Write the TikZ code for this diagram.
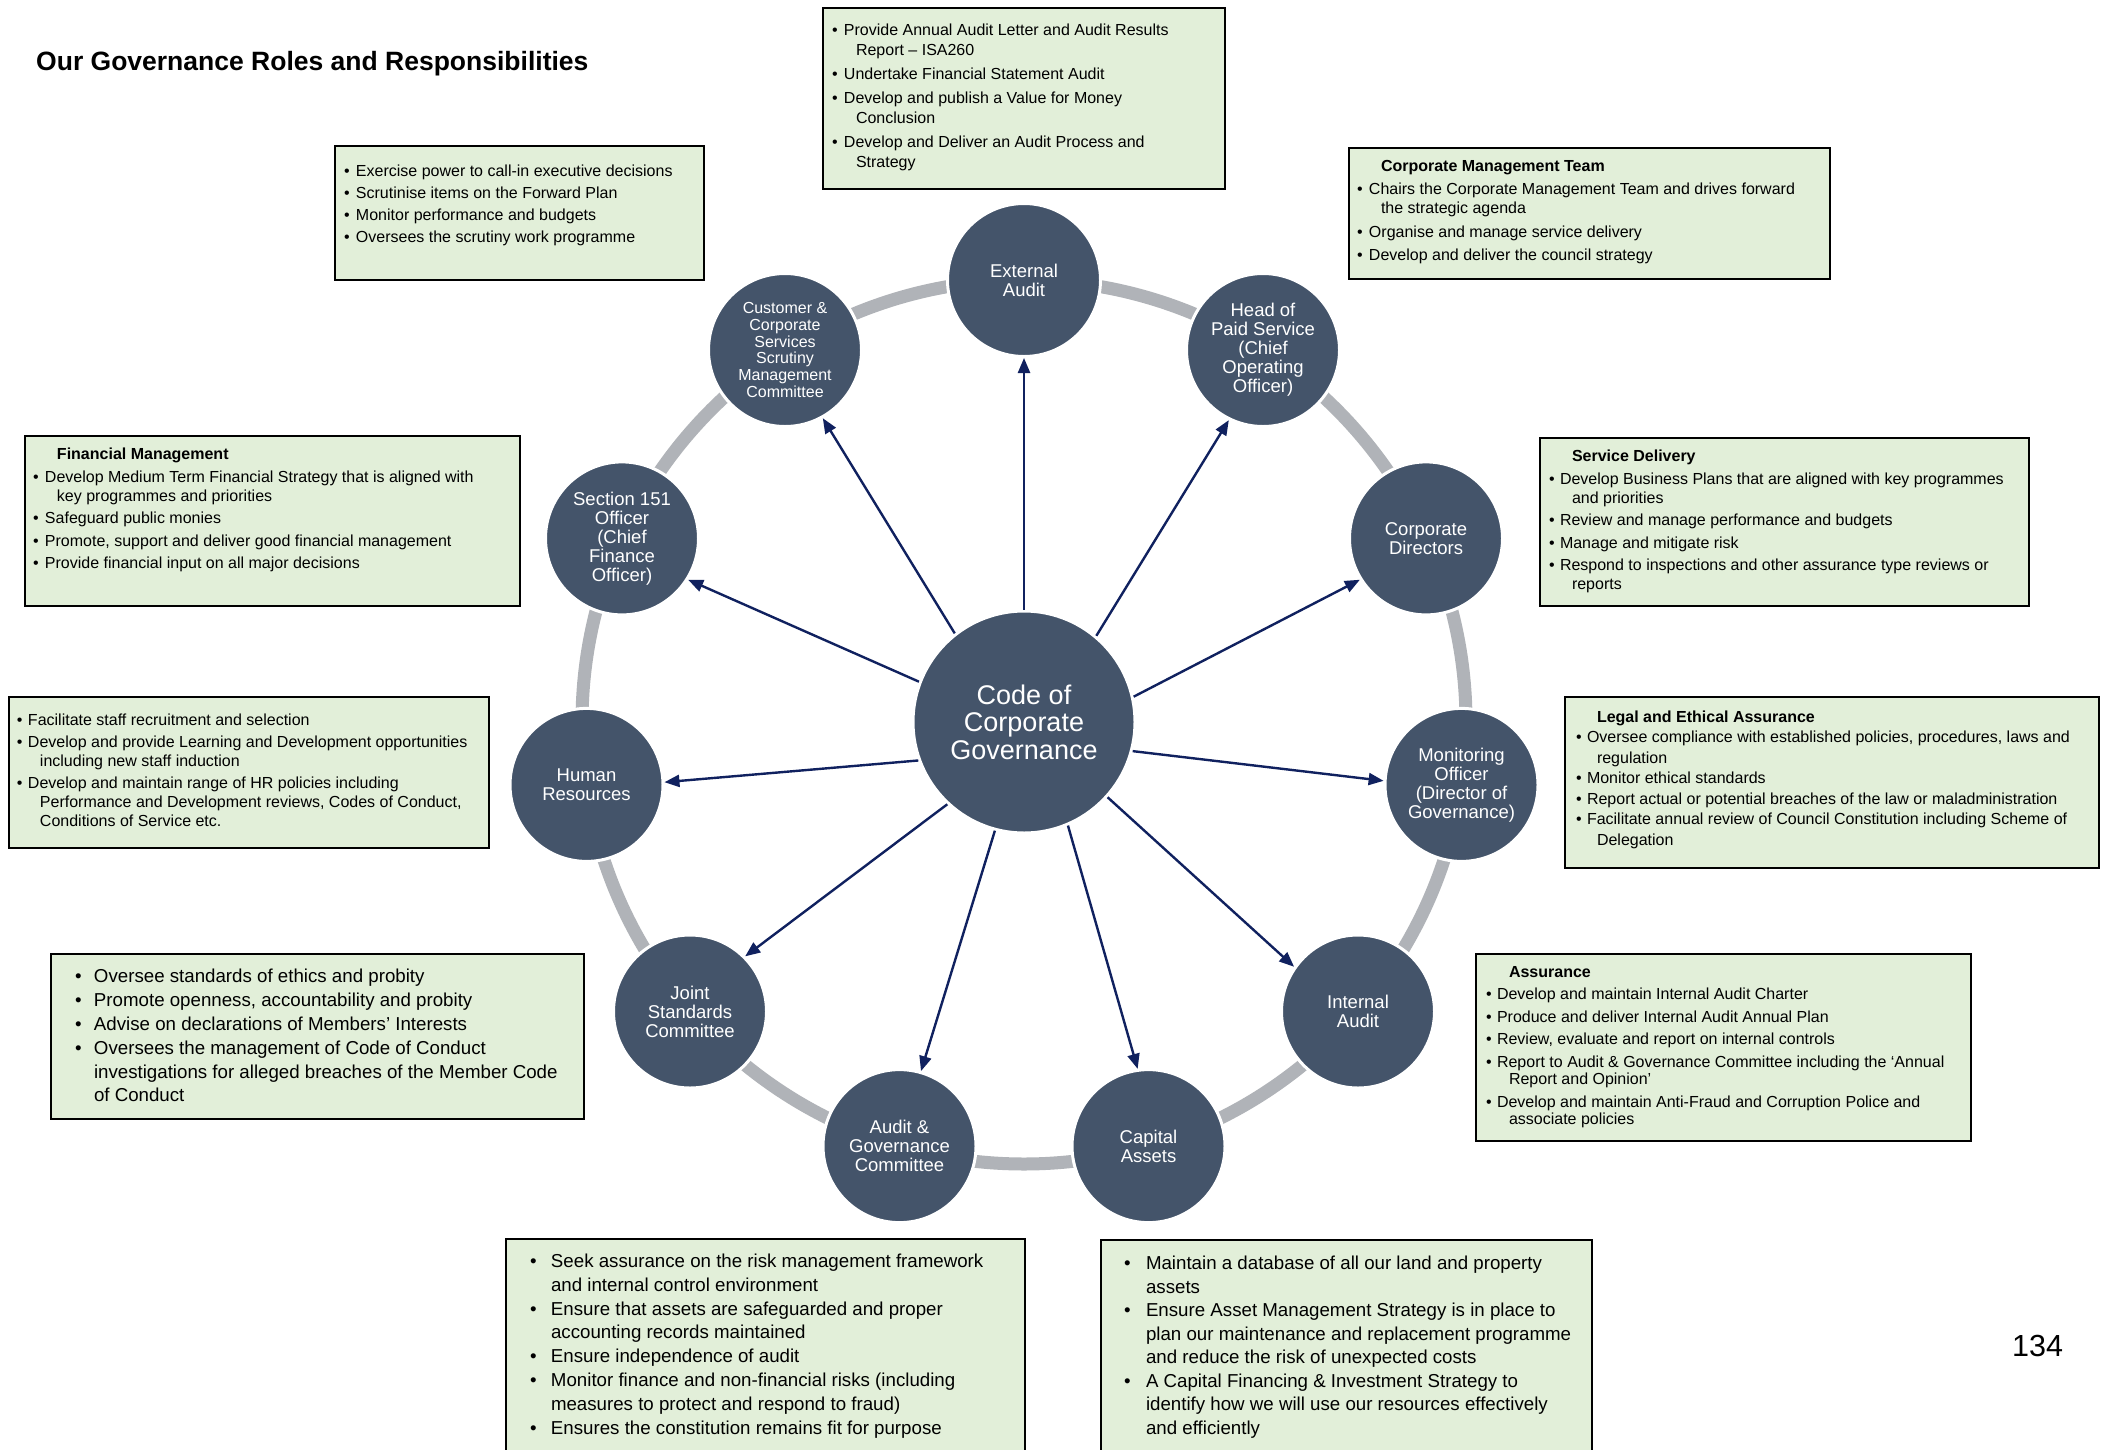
\documentclass[tikz,border=0pt]{standalone}
\usepackage{fontspec}
\setmainfont{Liberation Sans}
\usetikzlibrary{arrows.meta}
\definecolor{circfill}{HTML}{44546A}
\definecolor{ringgray}{HTML}{B0B3B8}
\definecolor{arrowblue}{HTML}{10215F}
\definecolor{boxgreen}{HTML}{E2EFD9}
\newlength{\hgi}\newlength{\bwi}
\newcommand{\bi}[1]{\par\hangindent=\hgi\hangafter=1\noindent\strut\makebox[\bwi][l]{•}#1\par}
\newcommand{\bt}[1]{\par\noindent\strut\hspace*{\hgi}\textbf{#1}\par}
\newcommand{\gbody}[6]{\hspace*{#1}\begin{minipage}[t][#3][t]{#2}\setlength{\parskip}{#5}\setlength{\parindent}{0pt}\raggedright\vspace*{#4}#6\end{minipage}}
\tikzset{
  role/.style={circle, fill=circfill, draw=white, line width=3pt, minimum size=153pt,
    inner sep=0pt, text=white, align=center, font=\fontsize{18.5}{19}\selectfont},
  gbox/.style={rectangle, draw=black, line width=2pt, fill=boxgreen, inner sep=0pt,
    anchor=north west, text=black},
  arr/.style={draw=arrowblue, line width=2.4pt, -{Triangle[length=15pt,width=12pt]}},
  ring/.style={draw=ringgray, line width=13pt}
}
\begin{document}
\begin{tikzpicture}[x=1pt,y=-1pt]
\useasboundingbox (0,0) rectangle (2107,1449);
\fill[white] (0,0) rectangle (2107,1449);
\coordinate (O) at (1024,722);
\draw[ring] (O) circle[radius=442];

\node[role, minimum size=222pt, font=\fontsize{27}{27.5}\selectfont] (C) at (O) {Code of\\Corporate\\Governance};
\node[role] (n0) at (1024,280) {External\\Audit};
\node[role] (n1) at (1263,350) {Head of\\Paid Service\\(Chief\\Operating\\Officer)};
\node[role] (n2) at (1426,538.4) {Corporate\\Directors};
\node[role] (n3) at (1461.5,784.9) {Monitoring\\Officer\\(Director of\\Governance)};
\node[role] (n4) at (1358,1011.5) {Internal\\Audit};
\node[role] (n5) at (1148.5,1146.1) {Capital\\Assets};
\node[role] (n6) at (899.5,1146.1) {Audit \&\\Governance\\Committee};
\node[role] (n7) at (690,1011.5) {Joint\\Standards\\Committee};
\node[role] (n8) at (586.5,784.9) {Human\\Resources};
\node[role] (n9) at (622,538.4) {Section 151\\Officer\\(Chief\\Finance\\Officer)};
\node[role, font=\fontsize{16}{16.7}\selectfont] (n10) at (785,350) {Customer \&\\Corporate\\Services\\Scrutiny\\Management\\Committee};

\draw[arr] (C.90) -- (n0.-90);
\draw[arr] (C.50) -- (n1.244);
\draw[arr] (C.13) -- (n2.212);
\draw[arr] (C.-15) -- (n3.177);
\draw[arr] (C.-42) -- (n4.145);
\draw[arr] (C.-67) -- (n5.98);
\draw[arr] (C.-105) -- (n6.74);
\draw[arr] (C.-133) -- (n7.45);
\draw[arr] (C.-160) -- (n8.2);
\draw[arr] (C.159) -- (n9.-32);
\draw[arr] (C.128) -- (n10.-61);

\node[anchor=base west, inner sep=0pt, font=\fontsize{26.5}{30}\selectfont\bfseries] (title) at (36,70) {Our Governance Roles and Responsibilities};
\node[anchor=base west, inner sep=0pt, font=\fontsize{30.5}{33}\selectfont] (pg) at (2012,1356) {134};

% External Audit box
\node[gbox, font=\fontsize{16}{20}\selectfont] (bA) at (822,7) {\gbody{9pt}{393pt}{181pt}{13pt}{4pt}{\setlength{\hgi}{24pt}\setlength{\bwi}{12pt}%
\bi{Provide Annual Audit Letter and Audit Results\newline Report – ISA260}%
\bi{Undertake Financial Statement Audit}%
\bi{Develop and publish a Value for Money\newline Conclusion}%
\bi{Develop and Deliver an Audit Process and\newline Strategy}}};

% Scrutiny box
\node[gbox, font=\fontsize{16}{19}\selectfont] (bB) at (334,145) {\gbody{9pt}{360pt}{134pt}{17pt}{3pt}{\setlength{\hgi}{24pt}\setlength{\bwi}{12pt}%
\bi{Exercise power to call-in executive decisions}%
\bi{Scrutinise items on the Forward Plan}%
\bi{Monitor performance and budgets}%
\bi{Oversees the scrutiny work programme}}};

% Corporate Management Team box
\node[gbox, font=\fontsize{16}{19}\selectfont] (bC) at (1348,147) {\gbody{8pt}{473pt}{131pt}{9.7pt}{4.5pt}{\setlength{\hgi}{24pt}\setlength{\bwi}{12pt}%
\bt{Corporate Management Team}%
\bi{Chairs the Corporate Management Team and drives forward\newline the strategic agenda}%
\bi{Organise and manage service delivery}%
\bi{Develop and deliver the council strategy}}};

% Financial Management box
\node[gbox, font=\fontsize{16}{19}\selectfont] (bD) at (24,435) {\gbody{8pt}{487pt}{170pt}{10.5pt}{3.5pt}{\setlength{\hgi}{24pt}\setlength{\bwi}{12pt}%
\bt{Financial Management}%
\bi{Develop Medium Term Financial Strategy that is aligned with\newline key programmes and priorities}%
\bi{Safeguard public monies}%
\bi{Promote, support and deliver good financial management}%
\bi{Provide financial input on all major decisions}}};

% Service Delivery box
\node[gbox, font=\fontsize{16}{19}\selectfont] (bE) at (1539,437) {\gbody{9pt}{480pt}{168pt}{10.5pt}{3.5pt}{\setlength{\hgi}{23pt}\setlength{\bwi}{11pt}%
\bt{Service Delivery}%
\bi{Develop Business Plans that are aligned with key programmes\newline and priorities}%
\bi{Review and manage performance and budgets}%
\bi{Manage and mitigate risk}%
\bi{Respond to inspections and other assurance type reviews or\newline reports}}};

% Human Resources box
\node[gbox, font=\fontsize{16}{19}\selectfont] (bF) at (8,696) {\gbody{8pt}{472pt}{151pt}{15pt}{3pt}{\setlength{\hgi}{23pt}\setlength{\bwi}{11pt}%
\bi{Facilitate staff recruitment and selection}%
\bi{Develop and provide Learning and Development opportunities\newline including new staff induction}%
\bi{Develop and maintain range of HR policies including\newline Performance and Development reviews, Codes of Conduct,\newline Conditions of Service etc.}}};

% Legal and Ethical Assurance box
\node[gbox, font=\fontsize{16}{20.5}\selectfont] (bG) at (1564,696) {\gbody{11pt}{523pt}{171pt}{11pt}{0pt}{\setlength{\hgi}{21pt}\setlength{\bwi}{11pt}%
\bt{Legal and Ethical Assurance}%
\bi{Oversee compliance with established policies, procedures, laws and\newline regulation}%
\bi{Monitor ethical standards}%
\bi{Report actual or potential breaches of the law or maladministration}%
\bi{Facilitate annual review of Council Constitution including Scheme of\newline Delegation}}};

% Joint Standards box
\node[gbox, font=\fontsize{18.7}{23.8}\selectfont] (bH) at (50,953) {\gbody{24pt}{509pt}{165pt}{12.3pt}{0pt}{\setlength{\hgi}{19pt}\setlength{\bwi}{19pt}%
\bi{Oversee standards of ethics and probity}%
\bi{Promote openness, accountability and probity}%
\bi{Advise on declarations of Members’ Interests}%
\bi{Oversees the management of Code of Conduct\newline investigations for alleged breaches of the Member Code\newline of Conduct}}};

% Assurance box
\node[gbox, font=\fontsize{16}{17.5}\selectfont] (bI) at (1475,953) {\gbody{10pt}{485pt}{187pt}{11pt}{5pt}{\setlength{\hgi}{23pt}\setlength{\bwi}{11pt}%
\bt{Assurance}%
\bi{Develop and maintain Internal Audit Charter}%
\bi{Produce and deliver Internal Audit Annual Plan}%
\bi{Review, evaluate and report on internal controls}%
\bi{Report to Audit \& Governance Committee including the ‘Annual\newline Report and Opinion’}%
\bi{Develop and maintain Anti-Fraud and Corruption Police and\newline associate policies}}};

% Audit & Governance box
\node[gbox, font=\fontsize{18.7}{23.8}\selectfont] (bJ) at (505,1238) {\gbody{24pt}{495pt}{240pt}{11.8pt}{0pt}{\setlength{\hgi}{21pt}\setlength{\bwi}{21pt}%
\bi{Seek assurance on the risk management framework\newline and internal control environment}%
\bi{Ensure that assets are safeguarded and proper\newline accounting records maintained}%
\bi{Ensure independence of audit}%
\bi{Monitor finance and non-financial risks (including\newline measures to protect and respond to fraud)}%
\bi{Ensures the constitution remains fit for purpose}}};

% Capital Assets box
\node[gbox, font=\fontsize{18.7}{23.5}\selectfont] (bK) at (1100,1239) {\gbody{23pt}{468pt}{240pt}{13.5pt}{0pt}{\setlength{\hgi}{22pt}\setlength{\bwi}{22pt}%
\bi{Maintain a database of all our land and property\newline assets}%
\bi{Ensure Asset Management Strategy is in place to\newline plan our maintenance and replacement programme\newline and reduce the risk of unexpected costs}%
\bi{A Capital Financing \& Investment Strategy to\newline identify how we will use our resources effectively\newline and efficiently}}};
\end{tikzpicture}
\end{document}
